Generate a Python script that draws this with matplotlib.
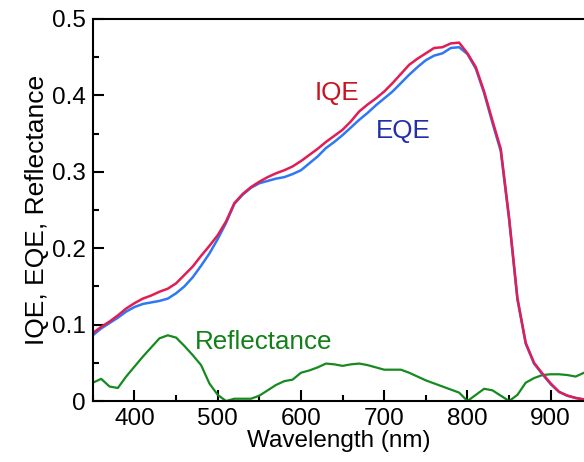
import matplotlib
matplotlib.use("Agg")
import matplotlib.pyplot as plt
import numpy as np
from matplotlib.ticker import MultipleLocator, FuncFormatter

plt.rcParams['font.family'] = ['Liberation Sans', 'DejaVu Sans']

wavelength = np.arange(350, 941, 10)

iqe = [0.089, 0.097, 0.104, 0.112, 0.121, 0.128, 0.134, 0.138, 0.143, 0.147,
       0.154, 0.165, 0.176, 0.190, 0.203, 0.217, 0.235, 0.259, 0.271, 0.280,
       0.287, 0.293, 0.298, 0.302, 0.307, 0.314, 0.322, 0.330, 0.339, 0.347,
       0.355, 0.366, 0.379, 0.388, 0.396, 0.405, 0.416, 0.428, 0.440, 0.448,
       0.455, 0.462, 0.463, 0.468, 0.469, 0.455, 0.437, 0.405, 0.367, 0.330,
       0.240, 0.135, 0.076, 0.050, 0.036, 0.023, 0.012, 0.007, 0.004, 0.002]

eqe = [0.086, 0.095, 0.102, 0.109, 0.117, 0.123, 0.127, 0.129, 0.131, 0.134,
       0.141, 0.150, 0.162, 0.177, 0.193, 0.212, 0.233, 0.258, 0.270, 0.279,
       0.285, 0.288, 0.291, 0.293, 0.297, 0.302, 0.311, 0.320, 0.331, 0.339,
       0.348, 0.358, 0.368, 0.377, 0.387, 0.396, 0.405, 0.416, 0.427, 0.437,
       0.446, 0.452, 0.455, 0.462, 0.463, 0.454, 0.435, 0.403, 0.364, 0.327,
       0.238, 0.133, 0.075, 0.049, 0.035, 0.022, 0.012, 0.007, 0.004, 0.002]

reflectance = [0.024, 0.029, 0.019, 0.017, 0.032, 0.045, 0.058, 0.070, 0.082, 0.086,
               0.083, 0.072, 0.060, 0.047, 0.023, 0.008, 0.000, 0.003, 0.003, 0.003,
               0.007, 0.014, 0.021, 0.026, 0.028, 0.037, 0.040, 0.044, 0.049, 0.048,
               0.046, 0.048, 0.049, 0.047, 0.044, 0.041, 0.041, 0.041, 0.037, 0.032,
               0.027, 0.023, 0.019, 0.015, 0.011, 0.000, 0.008, 0.016, 0.014, 0.007,
               0.000, 0.008, 0.024, 0.030, 0.034, 0.035, 0.035, 0.034, 0.032, 0.037]

fig = plt.figure(figsize=(5.84, 4.62), dpi=100)
ax = fig.add_axes([0.159, 0.132, 0.841, 0.827])

ax.plot(wavelength, reflectance, color='#168a1e', lw=1.6)
ax.plot(wavelength, eqe, color='#2f78f5', lw=1.8)
ax.plot(wavelength, iqe, color='#e01e55', lw=1.8)

ax.text(643, 0.403, 'IQE', color='#c8141e', fontsize=18.7, ha='center', va='center')
ax.text(723, 0.353, 'EQE', color='#2230a8', fontsize=18.7, ha='center', va='center')
ax.text(555, 0.077, 'Reflectance', color='#128018', fontsize=18.7, ha='center', va='center')

ax.set_xlim(350, 940)
ax.set_ylim(0, 0.5)
ax.xaxis.set_major_locator(MultipleLocator(100))
ax.xaxis.set_minor_locator(MultipleLocator(50))
ax.yaxis.set_major_locator(MultipleLocator(0.1))
ax.yaxis.set_minor_locator(MultipleLocator(0.05))
ax.yaxis.set_major_formatter(FuncFormatter(lambda v, p: '0' if abs(v) < 1e-9 else '%.1f' % v))

ax.tick_params(which='both', direction='in', width=1.5, labelsize=17.5, top=False, right=False)
ax.tick_params(which='major', length=8, pad=5)
ax.tick_params(which='minor', length=4)
for s in ['left', 'bottom', 'top']:
    ax.spines[s].set_linewidth(1.5)
ax.spines['right'].set_visible(False)

ax.set_xlabel('Wavelength (nm)', fontsize=17.5, labelpad=0)
ax.set_ylabel('IQE, EQE, Reflectance', fontsize=19, labelpad=2)

fig.savefig('out.png', dpi=100)
